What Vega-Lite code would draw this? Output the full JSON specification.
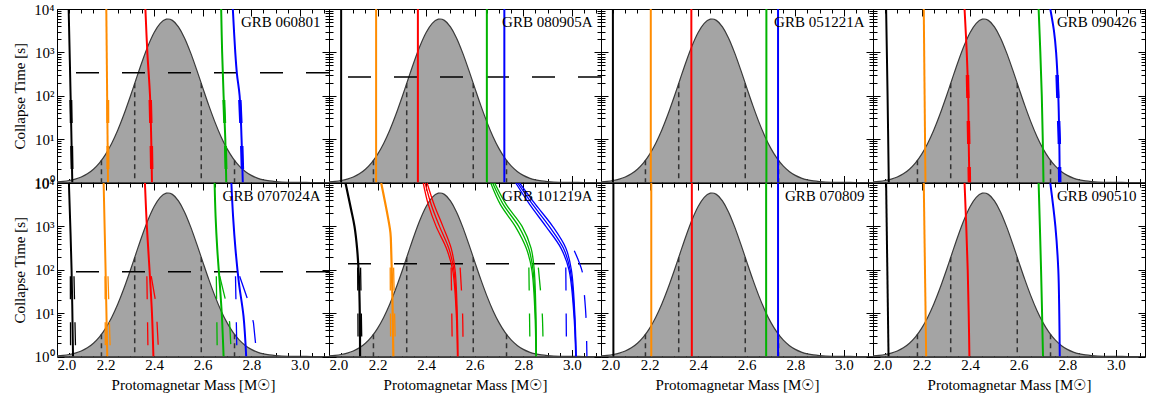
{
"$schema": "https://vega.github.io/schema/vega-lite/v6.json",
"padding": {"left": 12, "top": 1, "right": 0, "bottom": 0},
"autosize": {"type": "pad"},
"config": {
  "font": "Liberation Serif",
  "view": {"stroke": "#000", "strokeWidth": 1},
  "axis": {"grid": false, "labelFont": "Liberation Serif", "titleFont": "Liberation Serif", "labelFontSize": 15, "titleFontSize": 15, "titleFontWeight": "normal", "labelColor": "#000", "titleColor": "#000", "domainColor": "#000", "tickColor": "#000", "labelOverlap": false, "labelFlush": false, "labelBound": false}
},
"datasets": {
  "gauss": [
    {"m": 2.000, "t": 1.034}, {"m": 2.025, "t": 1.062}, {"m": 2.050, "t": 1.111}, {"m": 2.075, "t": 1.195},
    {"m": 2.100, "t": 1.338}, {"m": 2.125, "t": 1.585}, {"m": 2.150, "t": 2.024}, {"m": 2.175, "t": 2.840},
    {"m": 2.200, "t": 4.457}, {"m": 2.225, "t": 7.918}, {"m": 2.250, "t": 15.99}, {"m": 2.275, "t": 36.31},
    {"m": 2.300, "t": 90.2}, {"m": 2.325, "t": 234.4}, {"m": 2.350, "t": 601}, {"m": 2.375, "t": 1418},
    {"m": 2.400, "t": 2867}, {"m": 2.425, "t": 4662}, {"m": 2.450, "t": 5823}, {"m": 2.457, "t": 5888},
    {"m": 2.475, "t": 5466}, {"m": 2.500, "t": 3880}, {"m": 2.525, "t": 2154}, {"m": 2.550, "t": 986},
    {"m": 2.575, "t": 399.5}, {"m": 2.600, "t": 153.7}, {"m": 2.625, "t": 59.9}, {"m": 2.650, "t": 25.0},
    {"m": 2.675, "t": 11.56}, {"m": 2.700, "t": 6.05}, {"m": 2.725, "t": 3.60}, {"m": 2.750, "t": 2.415},
    {"m": 2.775, "t": 1.799}, {"m": 2.800, "t": 1.459}, {"m": 2.825, "t": 1.265}, {"m": 2.850, "t": 1.152},
    {"m": 2.875, "t": 1.086}, {"m": 2.900, "t": 1.048}, {"m": 2.925, "t": 1.026}, {"m": 2.950, "t": 1.0135},
    {"m": 3.000, "t": 1.0034}, {"m": 3.050, "t": 1.0008}, {"m": 3.120, "t": 1.0001}
  ],
  "sig": [
    {"m": 2.183, "t": 3.24}, {"m": 2.320, "t": 193}, {"m": 2.594, "t": 193}, {"m": 2.731, "t": 3.24}
  ],
  "hz": [
    {"p": "P1", "t": 337}, {"p": "P2", "t": 272}, {"p": "P5", "t": 90}, {"p": "P6", "t": 137}
  ],
  "lab": [
    {"p": "P1", "name": "GRB 060801"}, {"p": "P2", "name": "GRB 080905A"}, {"p": "P3", "name": "GRB 051221A"}, {"p": "P4", "name": "GRB 090426"},
    {"p": "P5", "name": "GRB 0707024A"}, {"p": "P6", "name": "GRB 101219A"}, {"p": "P7", "name": "GRB 070809"}, {"p": "P8", "name": "GRB 090510"}
  ],
  "ln": [
    {"p": "P1", "s": "s1", "k": "a", "t": 10000, "m": 2.048}, {"p": "P1", "s": "s1", "k": "a", "t": 100, "m": 2.056}, {"p": "P1", "s": "s1", "k": "a", "t": 1, "m": 2.063},
    {"p": "P1", "s": "s2", "k": "b", "t": 10000, "m": 2.203}, {"p": "P1", "s": "s2", "k": "b", "t": 1, "m": 2.210},
    {"p": "P1", "s": "s3", "k": "c", "t": 10000, "m": 2.364}, {"p": "P1", "s": "s3", "k": "c", "t": 1000, "m": 2.372}, {"p": "P1", "s": "s3", "k": "c", "t": 100, "m": 2.383}, {"p": "P1", "s": "s3", "k": "c", "t": 10, "m": 2.388}, {"p": "P1", "s": "s3", "k": "c", "t": 1, "m": 2.391},
    {"p": "P1", "s": "s4", "k": "d", "t": 10000, "m": 2.676}, {"p": "P1", "s": "s4", "k": "d", "t": 1000, "m": 2.680}, {"p": "P1", "s": "s4", "k": "d", "t": 100, "m": 2.686}, {"p": "P1", "s": "s4", "k": "d", "t": 10, "m": 2.693}, {"p": "P1", "s": "s4", "k": "d", "t": 1, "m": 2.697},
    {"p": "P1", "s": "s5", "k": "e", "t": 10000, "m": 2.724}, {"p": "P1", "s": "s5", "k": "e", "t": 1000, "m": 2.734}, {"p": "P1", "s": "s5", "k": "e", "t": 316, "m": 2.741}, {"p": "P1", "s": "s5", "k": "e", "t": 100, "m": 2.752}, {"p": "P1", "s": "s5", "k": "e", "t": 10, "m": 2.760}, {"p": "P1", "s": "s5", "k": "e", "t": 1, "m": 2.765},

    {"p": "P2", "s": "s1", "k": "a", "t": 10000, "m": 2.050}, {"p": "P2", "s": "s1", "k": "a", "t": 1, "m": 2.050},
    {"p": "P2", "s": "s2", "k": "b", "t": 10000, "m": 2.194}, {"p": "P2", "s": "s2", "k": "b", "t": 1, "m": 2.194},
    {"p": "P2", "s": "s3", "k": "c", "t": 10000, "m": 2.366}, {"p": "P2", "s": "s3", "k": "c", "t": 1, "m": 2.366},
    {"p": "P2", "s": "s4", "k": "d", "t": 10000, "m": 2.650}, {"p": "P2", "s": "s4", "k": "d", "t": 1, "m": 2.650},
    {"p": "P2", "s": "s5", "k": "e", "t": 10000, "m": 2.722}, {"p": "P2", "s": "s5", "k": "e", "t": 1, "m": 2.722},

    {"p": "P3", "s": "s1", "k": "a", "t": 10000, "m": 2.049}, {"p": "P3", "s": "s1", "k": "a", "t": 1, "m": 2.049},
    {"p": "P3", "s": "s2", "k": "b", "t": 10000, "m": 2.205}, {"p": "P3", "s": "s2", "k": "b", "t": 1, "m": 2.205},
    {"p": "P3", "s": "s3", "k": "c", "t": 10000, "m": 2.372}, {"p": "P3", "s": "s3", "k": "c", "t": 1, "m": 2.372},
    {"p": "P3", "s": "s4", "k": "d", "t": 10000, "m": 2.681}, {"p": "P3", "s": "s4", "k": "d", "t": 1, "m": 2.681},
    {"p": "P3", "s": "s5", "k": "e", "t": 10000, "m": 2.729}, {"p": "P3", "s": "s5", "k": "e", "t": 1, "m": 2.729},

    {"p": "P4", "s": "s1", "k": "a", "t": 10000, "m": 2.054}, {"p": "P4", "s": "s1", "k": "a", "t": 100, "m": 2.060}, {"p": "P4", "s": "s1", "k": "a", "t": 1, "m": 2.065},
    {"p": "P4", "s": "s2", "k": "b", "t": 10000, "m": 2.209}, {"p": "P4", "s": "s2", "k": "b", "t": 1, "m": 2.216},
    {"p": "P4", "s": "s3", "k": "c", "t": 10000, "m": 2.377}, {"p": "P4", "s": "s3", "k": "c", "t": 1000, "m": 2.386}, {"p": "P4", "s": "s3", "k": "c", "t": 100, "m": 2.392}, {"p": "P4", "s": "s3", "k": "c", "t": 10, "m": 2.394}, {"p": "P4", "s": "s3", "k": "c", "t": 1, "m": 2.397},
    {"p": "P4", "s": "s4", "k": "d", "t": 10000, "m": 2.682}, {"p": "P4", "s": "s4", "k": "d", "t": 1000, "m": 2.689}, {"p": "P4", "s": "s4", "k": "d", "t": 100, "m": 2.695}, {"p": "P4", "s": "s4", "k": "d", "t": 10, "m": 2.699}, {"p": "P4", "s": "s4", "k": "d", "t": 1, "m": 2.702},
    {"p": "P4", "s": "s5", "k": "e", "t": 10000, "m": 2.730}, {"p": "P4", "s": "s5", "k": "e", "t": 3162, "m": 2.745}, {"p": "P4", "s": "s5", "k": "e", "t": 1000, "m": 2.754}, {"p": "P4", "s": "s5", "k": "e", "t": 100, "m": 2.763}, {"p": "P4", "s": "s5", "k": "e", "t": 10, "m": 2.767}, {"p": "P4", "s": "s5", "k": "e", "t": 1, "m": 2.769},

    {"p": "P5", "s": "s1", "k": "a", "t": 10000, "m": 2.049}, {"p": "P5", "s": "s1", "k": "a", "t": 100, "m": 2.060}, {"p": "P5", "s": "s1", "k": "a", "t": 1, "m": 2.066},
    {"p": "P5", "s": "s2", "k": "b", "t": 10000, "m": 2.192}, {"p": "P5", "s": "s2", "k": "b", "t": 100, "m": 2.200}, {"p": "P5", "s": "s2", "k": "b", "t": 1, "m": 2.207},
    {"p": "P5", "s": "s3", "k": "c", "t": 10000, "m": 2.362}, {"p": "P5", "s": "s3", "k": "c", "t": 1000, "m": 2.370}, {"p": "P5", "s": "s3", "k": "c", "t": 100, "m": 2.381}, {"p": "P5", "s": "s3", "k": "c", "t": 10, "m": 2.391}, {"p": "P5", "s": "s3", "k": "c", "t": 1, "m": 2.397},
    {"p": "P5", "s": "s4", "k": "d", "t": 10000, "m": 2.649}, {"p": "P5", "s": "s4", "k": "d", "t": 1700, "m": 2.653}, {"p": "P5", "s": "s4", "k": "d", "t": 295, "m": 2.660}, {"p": "P5", "s": "s4", "k": "d", "t": 50, "m": 2.670}, {"p": "P5", "s": "s4", "k": "d", "t": 8.5, "m": 2.679}, {"p": "P5", "s": "s4", "k": "d", "t": 1, "m": 2.686},
    {"p": "P5", "s": "s5", "k": "e", "t": 10000, "m": 2.718}, {"p": "P5", "s": "s5", "k": "e", "t": 1700, "m": 2.725}, {"p": "P5", "s": "s5", "k": "e", "t": 295, "m": 2.735}, {"p": "P5", "s": "s5", "k": "e", "t": 50, "m": 2.749}, {"p": "P5", "s": "s5", "k": "e", "t": 8.5, "m": 2.768}, {"p": "P5", "s": "s5", "k": "e", "t": 1, "m": 2.779},

    {"p": "P6", "s": "s1", "k": "a", "t": 10000, "m": 2.068}, {"p": "P6", "s": "s1", "k": "a", "t": 2450, "m": 2.091}, {"p": "P6", "s": "s1", "k": "a", "t": 1000, "m": 2.105}, {"p": "P6", "s": "s1", "k": "a", "t": 295, "m": 2.116}, {"p": "P6", "s": "s1", "k": "a", "t": 71, "m": 2.123}, {"p": "P6", "s": "s1", "k": "a", "t": 8.5, "m": 2.127}, {"p": "P6", "s": "s1", "k": "a", "t": 1, "m": 2.128},
    {"p": "P6", "s": "s2", "k": "b", "t": 10000, "m": 2.215}, {"p": "P6", "s": "s2", "k": "b", "t": 1700, "m": 2.242}, {"p": "P6", "s": "s2", "k": "b", "t": 708, "m": 2.253}, {"p": "P6", "s": "s2", "k": "b", "t": 295, "m": 2.256}, {"p": "P6", "s": "s2", "k": "b", "t": 50, "m": 2.260}, {"p": "P6", "s": "s2", "k": "b", "t": 1, "m": 2.265},
    {"p": "P6", "s": "s3", "k": "c1", "t": 10000, "m": 2.388}, {"p": "P6", "s": "s3", "k": "c1", "t": 3162, "m": 2.409}, {"p": "P6", "s": "s3", "k": "c1", "t": 1000, "m": 2.441}, {"p": "P6", "s": "s3", "k": "c1", "t": 316, "m": 2.483}, {"p": "P6", "s": "s3", "k": "c1", "t": 100, "m": 2.509}, {"p": "P6", "s": "s3", "k": "c1", "t": 10, "m": 2.524}, {"p": "P6", "s": "s3", "k": "c1", "t": 1, "m": 2.529},
    {"p": "P6", "s": "s3", "k": "c2", "t": 10000, "m": 2.396}, {"p": "P6", "s": "s3", "k": "c2", "t": 3162, "m": 2.421}, {"p": "P6", "s": "s3", "k": "c2", "t": 1000, "m": 2.455}, {"p": "P6", "s": "s3", "k": "c2", "t": 316, "m": 2.493}, {"p": "P6", "s": "s3", "k": "c2", "t": 100, "m": 2.514}, {"p": "P6", "s": "s3", "k": "c2", "t": 10, "m": 2.526}, {"p": "P6", "s": "s3", "k": "c2", "t": 1, "m": 2.530},
    {"p": "P6", "s": "s3", "k": "c3", "t": 10000, "m": 2.404}, {"p": "P6", "s": "s3", "k": "c3", "t": 3162, "m": 2.433}, {"p": "P6", "s": "s3", "k": "c3", "t": 1000, "m": 2.469}, {"p": "P6", "s": "s3", "k": "c3", "t": 316, "m": 2.503}, {"p": "P6", "s": "s3", "k": "c3", "t": 100, "m": 2.519}, {"p": "P6", "s": "s3", "k": "c3", "t": 10, "m": 2.528}, {"p": "P6", "s": "s3", "k": "c3", "t": 1, "m": 2.531},
    {"p": "P6", "s": "s4", "k": "d1", "t": 10000, "m": 2.666}, {"p": "P6", "s": "s4", "k": "d1", "t": 3162, "m": 2.706}, {"p": "P6", "s": "s4", "k": "d1", "t": 1000, "m": 2.767}, {"p": "P6", "s": "s4", "k": "d1", "t": 316, "m": 2.812}, {"p": "P6", "s": "s4", "k": "d1", "t": 100, "m": 2.835}, {"p": "P6", "s": "s4", "k": "d1", "t": 10, "m": 2.848}, {"p": "P6", "s": "s4", "k": "d1", "t": 1, "m": 2.852},
    {"p": "P6", "s": "s4", "k": "d2", "t": 10000, "m": 2.674}, {"p": "P6", "s": "s4", "k": "d2", "t": 3162, "m": 2.718}, {"p": "P6", "s": "s4", "k": "d2", "t": 1000, "m": 2.781}, {"p": "P6", "s": "s4", "k": "d2", "t": 316, "m": 2.822}, {"p": "P6", "s": "s4", "k": "d2", "t": 100, "m": 2.840}, {"p": "P6", "s": "s4", "k": "d2", "t": 10, "m": 2.850}, {"p": "P6", "s": "s4", "k": "d2", "t": 1, "m": 2.853},
    {"p": "P6", "s": "s4", "k": "d3", "t": 10000, "m": 2.682}, {"p": "P6", "s": "s4", "k": "d3", "t": 3162, "m": 2.730}, {"p": "P6", "s": "s4", "k": "d3", "t": 1000, "m": 2.795}, {"p": "P6", "s": "s4", "k": "d3", "t": 316, "m": 2.832}, {"p": "P6", "s": "s4", "k": "d3", "t": 100, "m": 2.845}, {"p": "P6", "s": "s4", "k": "d3", "t": 10, "m": 2.852}, {"p": "P6", "s": "s4", "k": "d3", "t": 1, "m": 2.854},
    {"p": "P6", "s": "s5", "k": "e1", "t": 10000, "m": 2.769}, {"p": "P6", "s": "s5", "k": "e1", "t": 3162, "m": 2.827}, {"p": "P6", "s": "s5", "k": "e1", "t": 1000, "m": 2.893}, {"p": "P6", "s": "s5", "k": "e1", "t": 316, "m": 2.955}, {"p": "P6", "s": "s5", "k": "e1", "t": 100, "m": 2.988}, {"p": "P6", "s": "s5", "k": "e1", "t": 10, "m": 3.008}, {"p": "P6", "s": "s5", "k": "e1", "t": 1, "m": 3.016},
    {"p": "P6", "s": "s5", "k": "e2", "t": 10000, "m": 2.777}, {"p": "P6", "s": "s5", "k": "e2", "t": 3162, "m": 2.839}, {"p": "P6", "s": "s5", "k": "e2", "t": 1000, "m": 2.907}, {"p": "P6", "s": "s5", "k": "e2", "t": 316, "m": 2.965}, {"p": "P6", "s": "s5", "k": "e2", "t": 100, "m": 2.993}, {"p": "P6", "s": "s5", "k": "e2", "t": 10, "m": 3.010}, {"p": "P6", "s": "s5", "k": "e2", "t": 1, "m": 3.017},
    {"p": "P6", "s": "s5", "k": "e3", "t": 10000, "m": 2.785}, {"p": "P6", "s": "s5", "k": "e3", "t": 3162, "m": 2.851}, {"p": "P6", "s": "s5", "k": "e3", "t": 1000, "m": 2.921}, {"p": "P6", "s": "s5", "k": "e3", "t": 316, "m": 2.975}, {"p": "P6", "s": "s5", "k": "e3", "t": 100, "m": 2.998}, {"p": "P6", "s": "s5", "k": "e3", "t": 10, "m": 3.012}, {"p": "P6", "s": "s5", "k": "e3", "t": 1, "m": 3.018},

    {"p": "P7", "s": "s1", "k": "a", "t": 10000, "m": 2.051}, {"p": "P7", "s": "s1", "k": "a", "t": 1, "m": 2.051},
    {"p": "P7", "s": "s2", "k": "b", "t": 10000, "m": 2.207}, {"p": "P7", "s": "s2", "k": "b", "t": 1, "m": 2.207},
    {"p": "P7", "s": "s3", "k": "c", "t": 10000, "m": 2.374}, {"p": "P7", "s": "s3", "k": "c", "t": 1, "m": 2.374},
    {"p": "P7", "s": "s4", "k": "d", "t": 10000, "m": 2.680}, {"p": "P7", "s": "s4", "k": "d", "t": 1, "m": 2.680},
    {"p": "P7", "s": "s5", "k": "e", "t": 10000, "m": 2.729}, {"p": "P7", "s": "s5", "k": "e", "t": 1, "m": 2.729},

    {"p": "P8", "s": "s1", "k": "a", "t": 10000, "m": 2.054}, {"p": "P8", "s": "s1", "k": "a", "t": 1, "m": 2.064},
    {"p": "P8", "s": "s2", "k": "b", "t": 10000, "m": 2.209}, {"p": "P8", "s": "s2", "k": "b", "t": 1, "m": 2.219},
    {"p": "P8", "s": "s3", "k": "c", "t": 10000, "m": 2.377}, {"p": "P8", "s": "s3", "k": "c", "t": 1000, "m": 2.384}, {"p": "P8", "s": "s3", "k": "c", "t": 100, "m": 2.390}, {"p": "P8", "s": "s3", "k": "c", "t": 10, "m": 2.394}, {"p": "P8", "s": "s3", "k": "c", "t": 1, "m": 2.397},
    {"p": "P8", "s": "s4", "k": "d", "t": 10000, "m": 2.682}, {"p": "P8", "s": "s4", "k": "d", "t": 100, "m": 2.692}, {"p": "P8", "s": "s4", "k": "d", "t": 1, "m": 2.700},
    {"p": "P8", "s": "s5", "k": "e", "t": 10000, "m": 2.730}, {"p": "P8", "s": "s5", "k": "e", "t": 1000, "m": 2.751}, {"p": "P8", "s": "s5", "k": "e", "t": 100, "m": 2.763}, {"p": "P8", "s": "s5", "k": "e", "t": 10, "m": 2.767}, {"p": "P8", "s": "s5", "k": "e", "t": 1, "m": 2.769}
  ],
  "dl": [
    {"p": "P1", "s": "s1", "k": "a1", "t": 80, "m": 2.055}, {"p": "P1", "s": "s1", "k": "a1", "t": 1, "m": 2.061},
    {"p": "P1", "s": "s1", "k": "a2", "t": 80, "m": 2.059}, {"p": "P1", "s": "s1", "k": "a2", "t": 1, "m": 2.065},
    {"p": "P1", "s": "s2", "k": "b1", "t": 80, "m": 2.207}, {"p": "P1", "s": "s2", "k": "b1", "t": 1, "m": 2.208},
    {"p": "P1", "s": "s2", "k": "b2", "t": 80, "m": 2.211}, {"p": "P1", "s": "s2", "k": "b2", "t": 1, "m": 2.212},
    {"p": "P1", "s": "s3", "k": "c1", "t": 80, "m": 2.381}, {"p": "P1", "s": "s3", "k": "c1", "t": 10, "m": 2.385}, {"p": "P1", "s": "s3", "k": "c1", "t": 1, "m": 2.388},
    {"p": "P1", "s": "s3", "k": "c2", "t": 80, "m": 2.387}, {"p": "P1", "s": "s3", "k": "c2", "t": 10, "m": 2.391}, {"p": "P1", "s": "s3", "k": "c2", "t": 1, "m": 2.394},
    {"p": "P1", "s": "s4", "k": "d1", "t": 80, "m": 2.685}, {"p": "P1", "s": "s4", "k": "d1", "t": 10, "m": 2.691}, {"p": "P1", "s": "s4", "k": "d1", "t": 1, "m": 2.695},
    {"p": "P1", "s": "s4", "k": "d2", "t": 80, "m": 2.689}, {"p": "P1", "s": "s4", "k": "d2", "t": 10, "m": 2.695}, {"p": "P1", "s": "s4", "k": "d2", "t": 1, "m": 2.699},
    {"p": "P1", "s": "s5", "k": "e1", "t": 80, "m": 2.750}, {"p": "P1", "s": "s5", "k": "e1", "t": 10, "m": 2.757}, {"p": "P1", "s": "s5", "k": "e1", "t": 1, "m": 2.762},
    {"p": "P1", "s": "s5", "k": "e2", "t": 80, "m": 2.756}, {"p": "P1", "s": "s5", "k": "e2", "t": 10, "m": 2.763}, {"p": "P1", "s": "s5", "k": "e2", "t": 1, "m": 2.768},

    {"p": "P4", "s": "s3", "k": "c1", "t": 300, "m": 2.386}, {"p": "P4", "s": "s3", "k": "c1", "t": 10, "m": 2.391}, {"p": "P4", "s": "s3", "k": "c1", "t": 1, "m": 2.394},
    {"p": "P4", "s": "s3", "k": "c2", "t": 300, "m": 2.392}, {"p": "P4", "s": "s3", "k": "c2", "t": 10, "m": 2.397}, {"p": "P4", "s": "s3", "k": "c2", "t": 1, "m": 2.400},
    {"p": "P4", "s": "s5", "k": "e1", "t": 300, "m": 2.755}, {"p": "P4", "s": "s5", "k": "e1", "t": 10, "m": 2.764}, {"p": "P4", "s": "s5", "k": "e1", "t": 1, "m": 2.766},
    {"p": "P4", "s": "s5", "k": "e2", "t": 300, "m": 2.761}, {"p": "P4", "s": "s5", "k": "e2", "t": 10, "m": 2.770}, {"p": "P4", "s": "s5", "k": "e2", "t": 1, "m": 2.772},

    {"p": "P5", "s": "s1", "k": "a1", "t": 71, "m": 2.055}, {"p": "P5", "s": "s1", "k": "a1", "t": 1, "m": 2.056},
    {"p": "P5", "s": "s1", "k": "a2", "t": 71, "m": 2.070}, {"p": "P5", "s": "s1", "k": "a2", "t": 1, "m": 2.077},
    {"p": "P5", "s": "s2", "k": "b1", "t": 71, "m": 2.198}, {"p": "P5", "s": "s2", "k": "b1", "t": 1, "m": 2.199},
    {"p": "P5", "s": "s2", "k": "b2", "t": 71, "m": 2.210}, {"p": "P5", "s": "s2", "k": "b2", "t": 1, "m": 2.220},
    {"p": "P5", "s": "s3", "k": "c1", "t": 71, "m": 2.370}, {"p": "P5", "s": "s3", "k": "c1", "t": 1, "m": 2.375},
    {"p": "P5", "s": "s3", "k": "c2", "t": 71, "m": 2.388}, {"p": "P5", "s": "s3", "k": "c2", "t": 20, "m": 2.405}, {"p": "P5", "s": "s3", "k": "c2", "t": 6, "m": 2.412}, {"p": "P5", "s": "s3", "k": "c2", "t": 1, "m": 2.419},
    {"p": "P5", "s": "s4", "k": "d1", "t": 71, "m": 2.656}, {"p": "P5", "s": "s4", "k": "d1", "t": 1, "m": 2.660},
    {"p": "P5", "s": "s4", "k": "d2", "t": 71, "m": 2.670}, {"p": "P5", "s": "s4", "k": "d2", "t": 20, "m": 2.694}, {"p": "P5", "s": "s4", "k": "d2", "t": 6, "m": 2.711}, {"p": "P5", "s": "s4", "k": "d2", "t": 1, "m": 2.718},
    {"p": "P5", "s": "s5", "k": "e1", "t": 71, "m": 2.735}, {"p": "P5", "s": "s5", "k": "e1", "t": 1, "m": 2.741},
    {"p": "P5", "s": "s5", "k": "e2", "t": 71, "m": 2.752}, {"p": "P5", "s": "s5", "k": "e2", "t": 20, "m": 2.786}, {"p": "P5", "s": "s5", "k": "e2", "t": 6, "m": 2.809}, {"p": "P5", "s": "s5", "k": "e2", "t": 1, "m": 2.823},

    {"p": "P6", "s": "s1", "k": "a1", "t": 112, "m": 2.118}, {"p": "P6", "s": "s1", "k": "a1", "t": 1, "m": 2.120},
    {"p": "P6", "s": "s1", "k": "a2", "t": 112, "m": 2.130}, {"p": "P6", "s": "s1", "k": "a2", "t": 1, "m": 2.136},
    {"p": "P6", "s": "s2", "k": "b1", "t": 112, "m": 2.252}, {"p": "P6", "s": "s2", "k": "b1", "t": 1, "m": 2.254},
    {"p": "P6", "s": "s2", "k": "b2", "t": 112, "m": 2.266}, {"p": "P6", "s": "s2", "k": "b2", "t": 1, "m": 2.274},
    {"p": "P6", "s": "s3", "k": "c1", "t": 112, "m": 2.503}, {"p": "P6", "s": "s3", "k": "c1", "t": 1, "m": 2.508},
    {"p": "P6", "s": "s3", "k": "c2", "t": 112, "m": 2.540}, {"p": "P6", "s": "s3", "k": "c2", "t": 10, "m": 2.550}, {"p": "P6", "s": "s3", "k": "c2", "t": 1, "m": 2.552},
    {"p": "P6", "s": "s4", "k": "d1", "t": 112, "m": 2.823}, {"p": "P6", "s": "s4", "k": "d1", "t": 1, "m": 2.828},
    {"p": "P6", "s": "s4", "k": "d2", "t": 112, "m": 2.862}, {"p": "P6", "s": "s4", "k": "d2", "t": 10, "m": 2.878}, {"p": "P6", "s": "s4", "k": "d2", "t": 1, "m": 2.882},
    {"p": "P6", "s": "s5", "k": "e1", "t": 112, "m": 2.975}, {"p": "P6", "s": "s5", "k": "e1", "t": 1, "m": 2.978},
    {"p": "P6", "s": "s5", "k": "e2", "t": 275, "m": 3.010}, {"p": "P6", "s": "s5", "k": "e2", "t": 85, "m": 3.044}, {"p": "P6", "s": "s5", "k": "e2", "t": 25, "m": 3.052}, {"p": "P6", "s": "s5", "k": "e2", "t": 8.5, "m": 3.058}, {"p": "P6", "s": "s5", "k": "e2", "t": 1, "m": 3.062}
  ]
},
"columns": 4,
"spacing": 0,
"bounds": "flush",
"concat": [
{"width": 272, "height": 173.5, "layer": [
  {"data": {"name": "gauss"}, "mark": {"type": "area", "fill": "#a4a4a4", "stroke": "#3a3a3a", "strokeWidth": 1.2, "interpolate": "monotone", "clip": true},
   "encoding": {"x": {"field": "m", "type": "quantitative", "scale": {"domain": [2, 3.12], "nice": false, "zero": false}, "axis": {"values": [2,2.05,2.1,2.15,2.2,2.25,2.3,2.35,2.4,2.45,2.5,2.55,2.6,2.65,2.7,2.75,2.8,2.85,2.9,2.95,3,3.05,3.1], "labels": false, "title": null, "tickSize": {"condition": {"test": "abs(datum.value*5-round(datum.value*5))<0.001", "value": -7}, "value": -4}}},
    "y": {"field": "t", "type": "quantitative", "scale": {"type": "log", "domain": [1, 10000], "nice": false}, "axis": {"values": [1,2,3,4,5,6,7,8,9,10,20,30,40,50,60,70,80,90,100,200,300,400,500,600,700,800,900,1000,2000,3000,4000,5000,6000,7000,8000,9000,10000], "labelExpr": "datum.value==1?'10⁰':datum.value==10?'10¹':datum.value==100?'10²':datum.value==1000?'10³':datum.value==10000?'10⁴':''", "title": "Collapse Time [s]", "labelPadding": 10, "titlePadding": 6, "tickSize": {"condition": {"test": "datum.value==1||datum.value==10||datum.value==100||datum.value==1000||datum.value==10000", "value": -7}, "value": -4}}},
    "y2": {"datum": 1}}},
  {"data": {"name": "sig"}, "mark": {"type": "rule", "stroke": "#333", "strokeWidth": 1.5, "strokeDash": [5, 4]},
   "encoding": {"x": {"field": "m", "type": "quantitative", "axis": {"orient": "top", "values": [2,2.05,2.1,2.15,2.2,2.25,2.3,2.35,2.4,2.45,2.5,2.55,2.6,2.65,2.7,2.75,2.8,2.85,2.9,2.95,3,3.05,3.1], "labels": false, "title": null, "tickSize": {"condition": {"test": "abs(datum.value*5-round(datum.value*5))<0.001", "value": -7}, "value": -4}}},
    "y": {"field": "t", "type": "quantitative", "axis": {"orient": "right", "values": [1,2,3,4,5,6,7,8,9,10,20,30,40,50,60,70,80,90,100,200,300,400,500,600,700,800,900,1000,2000,3000,4000,5000,6000,7000,8000,9000,10000], "labels": false, "title": null, "tickSize": {"condition": {"test": "datum.value==1||datum.value==10||datum.value==100||datum.value==1000||datum.value==10000", "value": -7}, "value": -4}}},
    "y2": {"datum": 1}}},
  {"data": {"name": "hz"}, "transform": [{"filter": "datum.p=='P1'"}], "mark": {"type": "rule", "stroke": "#000", "strokeWidth": 1.5, "strokeDash": [23, 23]},
   "encoding": {"y": {"field": "t", "type": "quantitative", "axis": null}}},
  {"data": {"name": "ln"}, "transform": [{"filter": "datum.p=='P1'"}], "mark": {"type": "line", "strokeWidth": 2, "clip": true, "interpolate": "catmull-rom"},
   "encoding": {"x": {"field": "m", "type": "quantitative", "axis": null}, "y": {"field": "t", "type": "quantitative", "axis": null}, "color": {"field": "s", "type": "nominal", "scale": {"domain": ["s1","s2","s3","s4","s5"], "range": ["#000000","#ff8c00","#ff0000","#00b400","#0000ff"]}, "legend": null}, "detail": {"field": "k", "type": "nominal"}, "order": {"field": "t", "type": "quantitative", "sort": "descending"}}},
  {"data": {"name": "dl"}, "transform": [{"filter": "datum.p=='P1'"}], "mark": {"type": "line", "strokeWidth": 2, "clip": true, "strokeDash": [23, 23]},
   "encoding": {"x": {"field": "m", "type": "quantitative", "axis": null}, "y": {"field": "t", "type": "quantitative", "axis": null}, "color": {"field": "s", "type": "nominal", "legend": null}, "detail": {"field": "k", "type": "nominal"}, "order": {"field": "t", "type": "quantitative", "sort": "descending"}}},
  {"data": {"name": "lab"}, "transform": [{"filter": "datum.p=='P1'"}], "mark": {"type": "text", "align": "right", "baseline": "alphabetic", "dy": 17.5, "fontSize": 15, "color": "#000"},
   "encoding": {"x": {"datum": 3.085, "type": "quantitative", "axis": null}, "y": {"datum": 10000, "type": "quantitative", "axis": null}, "text": {"field": "name", "type": "nominal"}}}
 ], "resolve": {"axis": {"x": "independent", "y": "independent"}}},

{"width": 272, "height": 173.5, "layer": [
  {"data": {"name": "gauss"}, "mark": {"type": "area", "fill": "#a4a4a4", "stroke": "#3a3a3a", "strokeWidth": 1.2, "interpolate": "monotone", "clip": true},
   "encoding": {"x": {"field": "m", "type": "quantitative", "scale": {"domain": [2, 3.12], "nice": false, "zero": false}, "axis": {"values": [2,2.05,2.1,2.15,2.2,2.25,2.3,2.35,2.4,2.45,2.5,2.55,2.6,2.65,2.7,2.75,2.8,2.85,2.9,2.95,3,3.05,3.1], "labels": false, "title": null, "tickSize": {"condition": {"test": "abs(datum.value*5-round(datum.value*5))<0.001", "value": -7}, "value": -4}}},
    "y": {"field": "t", "type": "quantitative", "scale": {"type": "log", "domain": [1, 10000], "nice": false}, "axis": {"values": [1,2,3,4,5,6,7,8,9,10,20,30,40,50,60,70,80,90,100,200,300,400,500,600,700,800,900,1000,2000,3000,4000,5000,6000,7000,8000,9000,10000], "labels": false, "title": null, "tickSize": {"condition": {"test": "datum.value==1||datum.value==10||datum.value==100||datum.value==1000||datum.value==10000", "value": -7}, "value": -4}}},
    "y2": {"datum": 1}}},
  {"data": {"name": "sig"}, "mark": {"type": "rule", "stroke": "#333", "strokeWidth": 1.5, "strokeDash": [5, 4]},
   "encoding": {"x": {"field": "m", "type": "quantitative", "axis": {"orient": "top", "values": [2,2.05,2.1,2.15,2.2,2.25,2.3,2.35,2.4,2.45,2.5,2.55,2.6,2.65,2.7,2.75,2.8,2.85,2.9,2.95,3,3.05,3.1], "labels": false, "title": null, "tickSize": {"condition": {"test": "abs(datum.value*5-round(datum.value*5))<0.001", "value": -7}, "value": -4}}},
    "y": {"field": "t", "type": "quantitative", "axis": {"orient": "right", "values": [1,2,3,4,5,6,7,8,9,10,20,30,40,50,60,70,80,90,100,200,300,400,500,600,700,800,900,1000,2000,3000,4000,5000,6000,7000,8000,9000,10000], "labels": false, "title": null, "tickSize": {"condition": {"test": "datum.value==1||datum.value==10||datum.value==100||datum.value==1000||datum.value==10000", "value": -7}, "value": -4}}},
    "y2": {"datum": 1}}},
  {"data": {"name": "hz"}, "transform": [{"filter": "datum.p=='P2'"}], "mark": {"type": "rule", "stroke": "#000", "strokeWidth": 1.5, "strokeDash": [23, 23]},
   "encoding": {"y": {"field": "t", "type": "quantitative", "axis": null}}},
  {"data": {"name": "ln"}, "transform": [{"filter": "datum.p=='P2'"}], "mark": {"type": "line", "strokeWidth": 2, "clip": true, "interpolate": "catmull-rom"},
   "encoding": {"x": {"field": "m", "type": "quantitative", "axis": null}, "y": {"field": "t", "type": "quantitative", "axis": null}, "color": {"field": "s", "type": "nominal", "scale": {"domain": ["s1","s2","s3","s4","s5"], "range": ["#000000","#ff8c00","#ff0000","#00b400","#0000ff"]}, "legend": null}, "detail": {"field": "k", "type": "nominal"}, "order": {"field": "t", "type": "quantitative", "sort": "descending"}}},
  {"data": {"name": "lab"}, "transform": [{"filter": "datum.p=='P2'"}], "mark": {"type": "text", "align": "right", "baseline": "alphabetic", "dy": 17.5, "fontSize": 15, "color": "#000"},
   "encoding": {"x": {"datum": 3.085, "type": "quantitative", "axis": null}, "y": {"datum": 10000, "type": "quantitative", "axis": null}, "text": {"field": "name", "type": "nominal"}}}
 ], "resolve": {"axis": {"x": "independent", "y": "independent"}}},

{"width": 272, "height": 173.5, "layer": [
  {"data": {"name": "gauss"}, "mark": {"type": "area", "fill": "#a4a4a4", "stroke": "#3a3a3a", "strokeWidth": 1.2, "interpolate": "monotone", "clip": true},
   "encoding": {"x": {"field": "m", "type": "quantitative", "scale": {"domain": [2, 3.12], "nice": false, "zero": false}, "axis": {"values": [2,2.05,2.1,2.15,2.2,2.25,2.3,2.35,2.4,2.45,2.5,2.55,2.6,2.65,2.7,2.75,2.8,2.85,2.9,2.95,3,3.05,3.1], "labels": false, "title": null, "tickSize": {"condition": {"test": "abs(datum.value*5-round(datum.value*5))<0.001", "value": -7}, "value": -4}}},
    "y": {"field": "t", "type": "quantitative", "scale": {"type": "log", "domain": [1, 10000], "nice": false}, "axis": {"values": [1,2,3,4,5,6,7,8,9,10,20,30,40,50,60,70,80,90,100,200,300,400,500,600,700,800,900,1000,2000,3000,4000,5000,6000,7000,8000,9000,10000], "labels": false, "title": null, "tickSize": {"condition": {"test": "datum.value==1||datum.value==10||datum.value==100||datum.value==1000||datum.value==10000", "value": -7}, "value": -4}}},
    "y2": {"datum": 1}}},
  {"data": {"name": "sig"}, "mark": {"type": "rule", "stroke": "#333", "strokeWidth": 1.5, "strokeDash": [5, 4]},
   "encoding": {"x": {"field": "m", "type": "quantitative", "axis": {"orient": "top", "values": [2,2.05,2.1,2.15,2.2,2.25,2.3,2.35,2.4,2.45,2.5,2.55,2.6,2.65,2.7,2.75,2.8,2.85,2.9,2.95,3,3.05,3.1], "labels": false, "title": null, "tickSize": {"condition": {"test": "abs(datum.value*5-round(datum.value*5))<0.001", "value": -7}, "value": -4}}},
    "y": {"field": "t", "type": "quantitative", "axis": {"orient": "right", "values": [1,2,3,4,5,6,7,8,9,10,20,30,40,50,60,70,80,90,100,200,300,400,500,600,700,800,900,1000,2000,3000,4000,5000,6000,7000,8000,9000,10000], "labels": false, "title": null, "tickSize": {"condition": {"test": "datum.value==1||datum.value==10||datum.value==100||datum.value==1000||datum.value==10000", "value": -7}, "value": -4}}},
    "y2": {"datum": 1}}},
  {"data": {"name": "ln"}, "transform": [{"filter": "datum.p=='P3'"}], "mark": {"type": "line", "strokeWidth": 2, "clip": true, "interpolate": "catmull-rom"},
   "encoding": {"x": {"field": "m", "type": "quantitative", "axis": null}, "y": {"field": "t", "type": "quantitative", "axis": null}, "color": {"field": "s", "type": "nominal", "scale": {"domain": ["s1","s2","s3","s4","s5"], "range": ["#000000","#ff8c00","#ff0000","#00b400","#0000ff"]}, "legend": null}, "detail": {"field": "k", "type": "nominal"}, "order": {"field": "t", "type": "quantitative", "sort": "descending"}}},
  {"data": {"name": "lab"}, "transform": [{"filter": "datum.p=='P3'"}], "mark": {"type": "text", "align": "right", "baseline": "alphabetic", "dy": 17.5, "fontSize": 15, "color": "#000"},
   "encoding": {"x": {"datum": 3.085, "type": "quantitative", "axis": null}, "y": {"datum": 10000, "type": "quantitative", "axis": null}, "text": {"field": "name", "type": "nominal"}}}
 ], "resolve": {"axis": {"x": "independent", "y": "independent"}}},

{"width": 272, "height": 173.5, "layer": [
  {"data": {"name": "gauss"}, "mark": {"type": "area", "fill": "#a4a4a4", "stroke": "#3a3a3a", "strokeWidth": 1.2, "interpolate": "monotone", "clip": true},
   "encoding": {"x": {"field": "m", "type": "quantitative", "scale": {"domain": [2, 3.12], "nice": false, "zero": false}, "axis": {"values": [2,2.05,2.1,2.15,2.2,2.25,2.3,2.35,2.4,2.45,2.5,2.55,2.6,2.65,2.7,2.75,2.8,2.85,2.9,2.95,3,3.05,3.1], "labels": false, "title": null, "tickSize": {"condition": {"test": "abs(datum.value*5-round(datum.value*5))<0.001", "value": -7}, "value": -4}}},
    "y": {"field": "t", "type": "quantitative", "scale": {"type": "log", "domain": [1, 10000], "nice": false}, "axis": {"values": [1,2,3,4,5,6,7,8,9,10,20,30,40,50,60,70,80,90,100,200,300,400,500,600,700,800,900,1000,2000,3000,4000,5000,6000,7000,8000,9000,10000], "labels": false, "title": null, "tickSize": {"condition": {"test": "datum.value==1||datum.value==10||datum.value==100||datum.value==1000||datum.value==10000", "value": -7}, "value": -4}}},
    "y2": {"datum": 1}}},
  {"data": {"name": "sig"}, "mark": {"type": "rule", "stroke": "#333", "strokeWidth": 1.5, "strokeDash": [5, 4]},
   "encoding": {"x": {"field": "m", "type": "quantitative", "axis": {"orient": "top", "values": [2,2.05,2.1,2.15,2.2,2.25,2.3,2.35,2.4,2.45,2.5,2.55,2.6,2.65,2.7,2.75,2.8,2.85,2.9,2.95,3,3.05,3.1], "labels": false, "title": null, "tickSize": {"condition": {"test": "abs(datum.value*5-round(datum.value*5))<0.001", "value": -7}, "value": -4}}},
    "y": {"field": "t", "type": "quantitative", "axis": {"orient": "right", "values": [1,2,3,4,5,6,7,8,9,10,20,30,40,50,60,70,80,90,100,200,300,400,500,600,700,800,900,1000,2000,3000,4000,5000,6000,7000,8000,9000,10000], "labels": false, "title": null, "tickSize": {"condition": {"test": "datum.value==1||datum.value==10||datum.value==100||datum.value==1000||datum.value==10000", "value": -7}, "value": -4}}},
    "y2": {"datum": 1}}},
  {"data": {"name": "ln"}, "transform": [{"filter": "datum.p=='P4'"}], "mark": {"type": "line", "strokeWidth": 2, "clip": true, "interpolate": "catmull-rom"},
   "encoding": {"x": {"field": "m", "type": "quantitative", "axis": null}, "y": {"field": "t", "type": "quantitative", "axis": null}, "color": {"field": "s", "type": "nominal", "scale": {"domain": ["s1","s2","s3","s4","s5"], "range": ["#000000","#ff8c00","#ff0000","#00b400","#0000ff"]}, "legend": null}, "detail": {"field": "k", "type": "nominal"}, "order": {"field": "t", "type": "quantitative", "sort": "descending"}}},
  {"data": {"name": "dl"}, "transform": [{"filter": "datum.p=='P4'"}], "mark": {"type": "line", "strokeWidth": 2, "clip": true, "strokeDash": [23, 23]},
   "encoding": {"x": {"field": "m", "type": "quantitative", "axis": null}, "y": {"field": "t", "type": "quantitative", "axis": null}, "color": {"field": "s", "type": "nominal", "legend": null}, "detail": {"field": "k", "type": "nominal"}, "order": {"field": "t", "type": "quantitative", "sort": "descending"}}},
  {"data": {"name": "lab"}, "transform": [{"filter": "datum.p=='P4'"}], "mark": {"type": "text", "align": "right", "baseline": "alphabetic", "dy": 17.5, "fontSize": 15, "color": "#000"},
   "encoding": {"x": {"datum": 3.085, "type": "quantitative", "axis": null}, "y": {"datum": 10000, "type": "quantitative", "axis": null}, "text": {"field": "name", "type": "nominal"}}}
 ], "resolve": {"axis": {"x": "independent", "y": "independent"}}},

{"width": 272, "height": 173.5, "layer": [
  {"data": {"name": "gauss"}, "mark": {"type": "area", "fill": "#a4a4a4", "stroke": "#3a3a3a", "strokeWidth": 1.2, "interpolate": "monotone", "clip": true},
   "encoding": {"x": {"field": "m", "type": "quantitative", "scale": {"domain": [2, 3.12], "nice": false, "zero": false}, "axis": {"values": [2,2.05,2.1,2.15,2.2,2.25,2.3,2.35,2.4,2.45,2.5,2.55,2.6,2.65,2.7,2.75,2.8,2.85,2.9,2.95,3,3.05,3.1], "labelExpr": "abs(datum.value*5-round(datum.value*5))<0.001?format(datum.value,'.1f'):''", "labelFlush": true, "title": "Protomagnetar Mass [M☉]", "labelPadding": 8, "titlePadding": 2, "tickSize": {"condition": {"test": "abs(datum.value*5-round(datum.value*5))<0.001", "value": -7}, "value": -4}}},
    "y": {"field": "t", "type": "quantitative", "scale": {"type": "log", "domain": [1, 10000], "nice": false}, "axis": {"values": [1,2,3,4,5,6,7,8,9,10,20,30,40,50,60,70,80,90,100,200,300,400,500,600,700,800,900,1000,2000,3000,4000,5000,6000,7000,8000,9000,10000], "labelExpr": "datum.value==1?'10⁰':datum.value==10?'10¹':datum.value==100?'10²':datum.value==1000?'10³':datum.value==10000?'10⁴':''", "title": "Collapse Time [s]", "labelPadding": 10, "titlePadding": 6, "tickSize": {"condition": {"test": "datum.value==1||datum.value==10||datum.value==100||datum.value==1000||datum.value==10000", "value": -7}, "value": -4}}},
    "y2": {"datum": 1}}},
  {"data": {"name": "sig"}, "mark": {"type": "rule", "stroke": "#333", "strokeWidth": 1.5, "strokeDash": [5, 4]},
   "encoding": {"x": {"field": "m", "type": "quantitative", "axis": {"orient": "top", "values": [2,2.05,2.1,2.15,2.2,2.25,2.3,2.35,2.4,2.45,2.5,2.55,2.6,2.65,2.7,2.75,2.8,2.85,2.9,2.95,3,3.05,3.1], "labels": false, "title": null, "tickSize": {"condition": {"test": "abs(datum.value*5-round(datum.value*5))<0.001", "value": -7}, "value": -4}}},
    "y": {"field": "t", "type": "quantitative", "axis": {"orient": "right", "values": [1,2,3,4,5,6,7,8,9,10,20,30,40,50,60,70,80,90,100,200,300,400,500,600,700,800,900,1000,2000,3000,4000,5000,6000,7000,8000,9000,10000], "labels": false, "title": null, "tickSize": {"condition": {"test": "datum.value==1||datum.value==10||datum.value==100||datum.value==1000||datum.value==10000", "value": -7}, "value": -4}}},
    "y2": {"datum": 1}}},
  {"data": {"name": "hz"}, "transform": [{"filter": "datum.p=='P5'"}], "mark": {"type": "rule", "stroke": "#000", "strokeWidth": 1.5, "strokeDash": [23, 23]},
   "encoding": {"y": {"field": "t", "type": "quantitative", "axis": null}}},
  {"data": {"name": "ln"}, "transform": [{"filter": "datum.p=='P5'"}], "mark": {"type": "line", "strokeWidth": 2, "clip": true, "interpolate": "catmull-rom"},
   "encoding": {"x": {"field": "m", "type": "quantitative", "axis": null}, "y": {"field": "t", "type": "quantitative", "axis": null}, "color": {"field": "s", "type": "nominal", "scale": {"domain": ["s1","s2","s3","s4","s5"], "range": ["#000000","#ff8c00","#ff0000","#00b400","#0000ff"]}, "legend": null}, "detail": {"field": "k", "type": "nominal"}, "order": {"field": "t", "type": "quantitative", "sort": "descending"}}},
  {"data": {"name": "dl"}, "transform": [{"filter": "datum.p=='P5'"}], "mark": {"type": "line", "strokeWidth": 1.3, "clip": true, "strokeDash": [23, 23]},
   "encoding": {"x": {"field": "m", "type": "quantitative", "axis": null}, "y": {"field": "t", "type": "quantitative", "axis": null}, "color": {"field": "s", "type": "nominal", "legend": null}, "detail": {"field": "k", "type": "nominal"}, "order": {"field": "t", "type": "quantitative", "sort": "descending"}}},
  {"data": {"name": "lab"}, "transform": [{"filter": "datum.p=='P5'"}], "mark": {"type": "text", "align": "right", "baseline": "alphabetic", "dy": 17.5, "fontSize": 15, "color": "#000"},
   "encoding": {"x": {"datum": 3.085, "type": "quantitative", "axis": null}, "y": {"datum": 10000, "type": "quantitative", "axis": null}, "text": {"field": "name", "type": "nominal"}}}
 ], "resolve": {"axis": {"x": "independent", "y": "independent"}}},

{"width": 272, "height": 173.5, "layer": [
  {"data": {"name": "gauss"}, "mark": {"type": "area", "fill": "#a4a4a4", "stroke": "#3a3a3a", "strokeWidth": 1.2, "interpolate": "monotone", "clip": true},
   "encoding": {"x": {"field": "m", "type": "quantitative", "scale": {"domain": [2, 3.12], "nice": false, "zero": false}, "axis": {"values": [2,2.05,2.1,2.15,2.2,2.25,2.3,2.35,2.4,2.45,2.5,2.55,2.6,2.65,2.7,2.75,2.8,2.85,2.9,2.95,3,3.05,3.1], "labelExpr": "abs(datum.value*5-round(datum.value*5))<0.001?format(datum.value,'.1f'):''", "labelFlush": true, "title": "Protomagnetar Mass [M☉]", "labelPadding": 8, "titlePadding": 2, "tickSize": {"condition": {"test": "abs(datum.value*5-round(datum.value*5))<0.001", "value": -7}, "value": -4}}},
    "y": {"field": "t", "type": "quantitative", "scale": {"type": "log", "domain": [1, 10000], "nice": false}, "axis": {"values": [1,2,3,4,5,6,7,8,9,10,20,30,40,50,60,70,80,90,100,200,300,400,500,600,700,800,900,1000,2000,3000,4000,5000,6000,7000,8000,9000,10000], "labels": false, "title": null, "tickSize": {"condition": {"test": "datum.value==1||datum.value==10||datum.value==100||datum.value==1000||datum.value==10000", "value": -7}, "value": -4}}},
    "y2": {"datum": 1}}},
  {"data": {"name": "sig"}, "mark": {"type": "rule", "stroke": "#333", "strokeWidth": 1.5, "strokeDash": [5, 4]},
   "encoding": {"x": {"field": "m", "type": "quantitative", "axis": {"orient": "top", "values": [2,2.05,2.1,2.15,2.2,2.25,2.3,2.35,2.4,2.45,2.5,2.55,2.6,2.65,2.7,2.75,2.8,2.85,2.9,2.95,3,3.05,3.1], "labels": false, "title": null, "tickSize": {"condition": {"test": "abs(datum.value*5-round(datum.value*5))<0.001", "value": -7}, "value": -4}}},
    "y": {"field": "t", "type": "quantitative", "axis": {"orient": "right", "values": [1,2,3,4,5,6,7,8,9,10,20,30,40,50,60,70,80,90,100,200,300,400,500,600,700,800,900,1000,2000,3000,4000,5000,6000,7000,8000,9000,10000], "labels": false, "title": null, "tickSize": {"condition": {"test": "datum.value==1||datum.value==10||datum.value==100||datum.value==1000||datum.value==10000", "value": -7}, "value": -4}}},
    "y2": {"datum": 1}}},
  {"data": {"name": "hz"}, "transform": [{"filter": "datum.p=='P6'"}], "mark": {"type": "rule", "stroke": "#000", "strokeWidth": 1.5, "strokeDash": [23, 23]},
   "encoding": {"y": {"field": "t", "type": "quantitative", "axis": null}}},
  {"data": {"name": "ln"}, "transform": [{"filter": "datum.p=='P6'"}], "mark": {"type": "line", "clip": true, "interpolate": "catmull-rom"},
   "encoding": {"x": {"field": "m", "type": "quantitative", "axis": null}, "y": {"field": "t", "type": "quantitative", "axis": null}, "color": {"field": "s", "type": "nominal", "scale": {"domain": ["s1","s2","s3","s4","s5"], "range": ["#000000","#ff8c00","#ff0000","#00b400","#0000ff"]}, "legend": null}, "size": {"condition": {"test": "datum.s=='s1'||datum.s=='s2'", "value": 2.2}, "value": 1.3}, "detail": {"field": "k", "type": "nominal"}, "order": {"field": "t", "type": "quantitative", "sort": "descending"}}},
  {"data": {"name": "dl"}, "transform": [{"filter": "datum.p=='P6'"}], "mark": {"type": "line", "strokeWidth": 1.3, "clip": true, "strokeDash": [23, 23], "interpolate": "catmull-rom"},
   "encoding": {"x": {"field": "m", "type": "quantitative", "axis": null}, "y": {"field": "t", "type": "quantitative", "axis": null}, "color": {"field": "s", "type": "nominal", "legend": null}, "detail": {"field": "k", "type": "nominal"}, "order": {"field": "t", "type": "quantitative", "sort": "descending"}}},
  {"data": {"name": "lab"}, "transform": [{"filter": "datum.p=='P6'"}], "mark": {"type": "text", "align": "right", "baseline": "alphabetic", "dy": 17.5, "fontSize": 15, "color": "#000"},
   "encoding": {"x": {"datum": 3.085, "type": "quantitative", "axis": null}, "y": {"datum": 10000, "type": "quantitative", "axis": null}, "text": {"field": "name", "type": "nominal"}}}
 ], "resolve": {"axis": {"x": "independent", "y": "independent"}}},

{"width": 272, "height": 173.5, "layer": [
  {"data": {"name": "gauss"}, "mark": {"type": "area", "fill": "#a4a4a4", "stroke": "#3a3a3a", "strokeWidth": 1.2, "interpolate": "monotone", "clip": true},
   "encoding": {"x": {"field": "m", "type": "quantitative", "scale": {"domain": [2, 3.12], "nice": false, "zero": false}, "axis": {"values": [2,2.05,2.1,2.15,2.2,2.25,2.3,2.35,2.4,2.45,2.5,2.55,2.6,2.65,2.7,2.75,2.8,2.85,2.9,2.95,3,3.05,3.1], "labelExpr": "abs(datum.value*5-round(datum.value*5))<0.001?format(datum.value,'.1f'):''", "labelFlush": true, "title": "Protomagnetar Mass [M☉]", "labelPadding": 8, "titlePadding": 2, "tickSize": {"condition": {"test": "abs(datum.value*5-round(datum.value*5))<0.001", "value": -7}, "value": -4}}},
    "y": {"field": "t", "type": "quantitative", "scale": {"type": "log", "domain": [1, 10000], "nice": false}, "axis": {"values": [1,2,3,4,5,6,7,8,9,10,20,30,40,50,60,70,80,90,100,200,300,400,500,600,700,800,900,1000,2000,3000,4000,5000,6000,7000,8000,9000,10000], "labels": false, "title": null, "tickSize": {"condition": {"test": "datum.value==1||datum.value==10||datum.value==100||datum.value==1000||datum.value==10000", "value": -7}, "value": -4}}},
    "y2": {"datum": 1}}},
  {"data": {"name": "sig"}, "mark": {"type": "rule", "stroke": "#333", "strokeWidth": 1.5, "strokeDash": [5, 4]},
   "encoding": {"x": {"field": "m", "type": "quantitative", "axis": {"orient": "top", "values": [2,2.05,2.1,2.15,2.2,2.25,2.3,2.35,2.4,2.45,2.5,2.55,2.6,2.65,2.7,2.75,2.8,2.85,2.9,2.95,3,3.05,3.1], "labels": false, "title": null, "tickSize": {"condition": {"test": "abs(datum.value*5-round(datum.value*5))<0.001", "value": -7}, "value": -4}}},
    "y": {"field": "t", "type": "quantitative", "axis": {"orient": "right", "values": [1,2,3,4,5,6,7,8,9,10,20,30,40,50,60,70,80,90,100,200,300,400,500,600,700,800,900,1000,2000,3000,4000,5000,6000,7000,8000,9000,10000], "labels": false, "title": null, "tickSize": {"condition": {"test": "datum.value==1||datum.value==10||datum.value==100||datum.value==1000||datum.value==10000", "value": -7}, "value": -4}}},
    "y2": {"datum": 1}}},
  {"data": {"name": "ln"}, "transform": [{"filter": "datum.p=='P7'"}], "mark": {"type": "line", "strokeWidth": 2, "clip": true, "interpolate": "catmull-rom"},
   "encoding": {"x": {"field": "m", "type": "quantitative", "axis": null}, "y": {"field": "t", "type": "quantitative", "axis": null}, "color": {"field": "s", "type": "nominal", "scale": {"domain": ["s1","s2","s3","s4","s5"], "range": ["#000000","#ff8c00","#ff0000","#00b400","#0000ff"]}, "legend": null}, "detail": {"field": "k", "type": "nominal"}, "order": {"field": "t", "type": "quantitative", "sort": "descending"}}},
  {"data": {"name": "lab"}, "transform": [{"filter": "datum.p=='P7'"}], "mark": {"type": "text", "align": "right", "baseline": "alphabetic", "dy": 17.5, "fontSize": 15, "color": "#000"},
   "encoding": {"x": {"datum": 3.085, "type": "quantitative", "axis": null}, "y": {"datum": 10000, "type": "quantitative", "axis": null}, "text": {"field": "name", "type": "nominal"}}}
 ], "resolve": {"axis": {"x": "independent", "y": "independent"}}},

{"width": 272, "height": 173.5, "layer": [
  {"data": {"name": "gauss"}, "mark": {"type": "area", "fill": "#a4a4a4", "stroke": "#3a3a3a", "strokeWidth": 1.2, "interpolate": "monotone", "clip": true},
   "encoding": {"x": {"field": "m", "type": "quantitative", "scale": {"domain": [2, 3.12], "nice": false, "zero": false}, "axis": {"values": [2,2.05,2.1,2.15,2.2,2.25,2.3,2.35,2.4,2.45,2.5,2.55,2.6,2.65,2.7,2.75,2.8,2.85,2.9,2.95,3,3.05,3.1], "labelExpr": "abs(datum.value*5-round(datum.value*5))<0.001?format(datum.value,'.1f'):''", "labelFlush": true, "title": "Protomagnetar Mass [M☉]", "labelPadding": 8, "titlePadding": 2, "tickSize": {"condition": {"test": "abs(datum.value*5-round(datum.value*5))<0.001", "value": -7}, "value": -4}}},
    "y": {"field": "t", "type": "quantitative", "scale": {"type": "log", "domain": [1, 10000], "nice": false}, "axis": {"values": [1,2,3,4,5,6,7,8,9,10,20,30,40,50,60,70,80,90,100,200,300,400,500,600,700,800,900,1000,2000,3000,4000,5000,6000,7000,8000,9000,10000], "labels": false, "title": null, "tickSize": {"condition": {"test": "datum.value==1||datum.value==10||datum.value==100||datum.value==1000||datum.value==10000", "value": -7}, "value": -4}}},
    "y2": {"datum": 1}}},
  {"data": {"name": "sig"}, "mark": {"type": "rule", "stroke": "#333", "strokeWidth": 1.5, "strokeDash": [5, 4]},
   "encoding": {"x": {"field": "m", "type": "quantitative", "axis": {"orient": "top", "values": [2,2.05,2.1,2.15,2.2,2.25,2.3,2.35,2.4,2.45,2.5,2.55,2.6,2.65,2.7,2.75,2.8,2.85,2.9,2.95,3,3.05,3.1], "labels": false, "title": null, "tickSize": {"condition": {"test": "abs(datum.value*5-round(datum.value*5))<0.001", "value": -7}, "value": -4}}},
    "y": {"field": "t", "type": "quantitative", "axis": {"orient": "right", "values": [1,2,3,4,5,6,7,8,9,10,20,30,40,50,60,70,80,90,100,200,300,400,500,600,700,800,900,1000,2000,3000,4000,5000,6000,7000,8000,9000,10000], "labels": false, "title": null, "tickSize": {"condition": {"test": "datum.value==1||datum.value==10||datum.value==100||datum.value==1000||datum.value==10000", "value": -7}, "value": -4}}},
    "y2": {"datum": 1}}},
  {"data": {"name": "ln"}, "transform": [{"filter": "datum.p=='P8'"}], "mark": {"type": "line", "strokeWidth": 2, "clip": true, "interpolate": "catmull-rom"},
   "encoding": {"x": {"field": "m", "type": "quantitative", "axis": null}, "y": {"field": "t", "type": "quantitative", "axis": null}, "color": {"field": "s", "type": "nominal", "scale": {"domain": ["s1","s2","s3","s4","s5"], "range": ["#000000","#ff8c00","#ff0000","#00b400","#0000ff"]}, "legend": null}, "detail": {"field": "k", "type": "nominal"}, "order": {"field": "t", "type": "quantitative", "sort": "descending"}}},
  {"data": {"name": "lab"}, "transform": [{"filter": "datum.p=='P8'"}], "mark": {"type": "text", "align": "right", "baseline": "alphabetic", "dy": 17.5, "fontSize": 15, "color": "#000"},
   "encoding": {"x": {"datum": 3.085, "type": "quantitative", "axis": null}, "y": {"datum": 10000, "type": "quantitative", "axis": null}, "text": {"field": "name", "type": "nominal"}}}
 ], "resolve": {"axis": {"x": "independent", "y": "independent"}}}
]
}
